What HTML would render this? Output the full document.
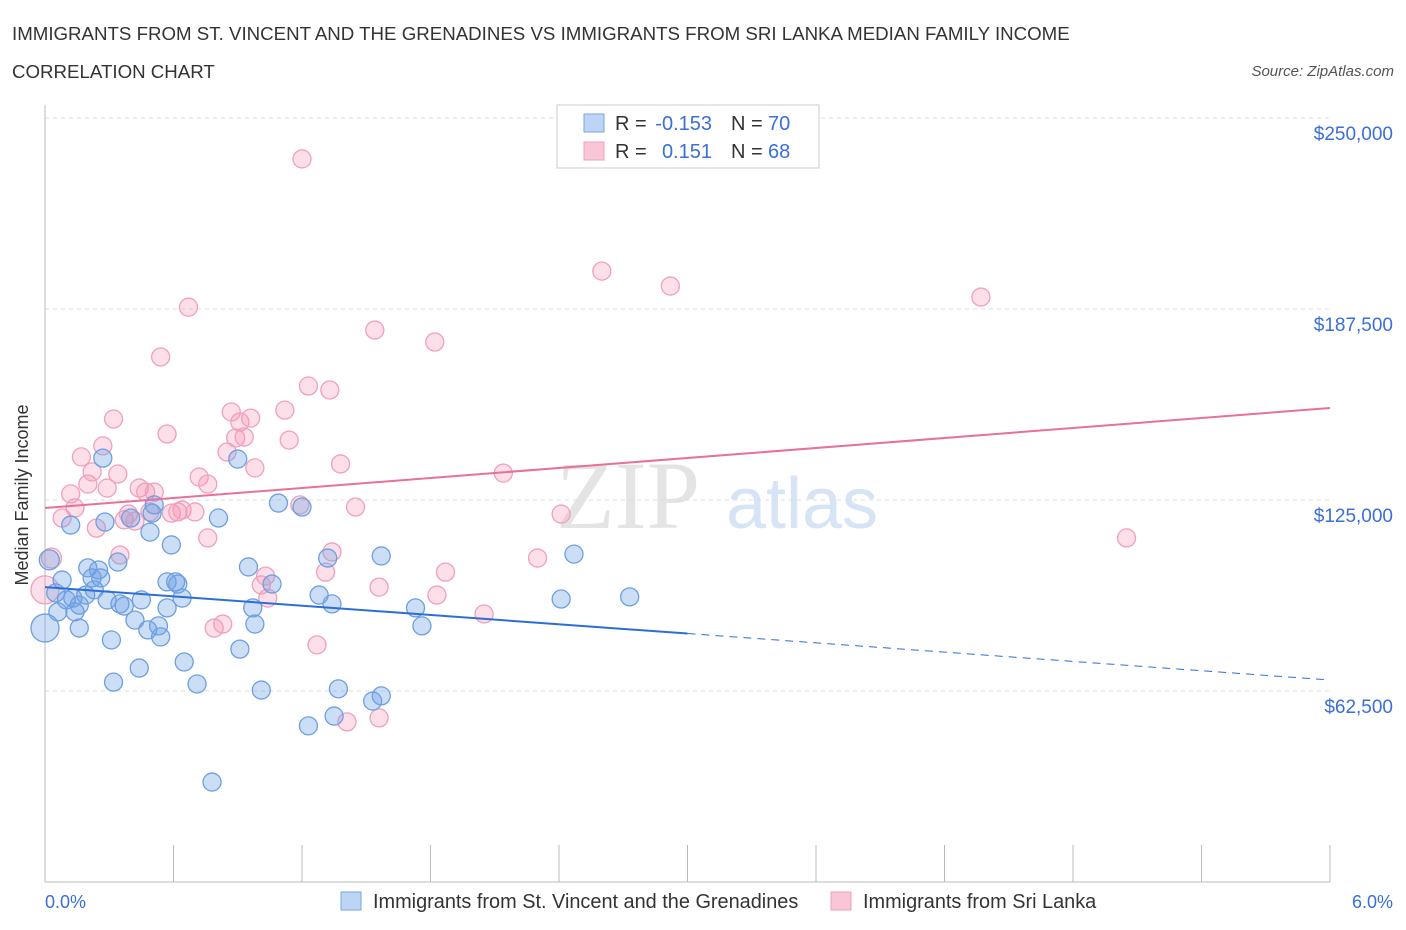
<!DOCTYPE html>
<html><head><meta charset="utf-8"><style>
body{margin:0;background:#fff;font-family:"Liberation Sans",sans-serif;}
svg{display:block}
</style></head><body>
<svg id="chart" width="1406" height="930">
<text x="12" y="40" font-size="18.7" fill="#333">IMMIGRANTS FROM ST. VINCENT AND THE GRENADINES VS IMMIGRANTS FROM SRI LANKA MEDIAN FAMILY INCOME</text>
<text x="12" y="78" font-size="18.7" fill="#333">CORRELATION CHART</text>
<text x="1394" y="76" font-size="15" fill="#555" font-style="italic" text-anchor="end">Source: ZipAtlas.com</text>
<text x="28" y="495" font-size="18" fill="#333" text-anchor="middle" transform="rotate(-90 28 495)">Median Family Income</text>
<text x="628" y="528" font-size="96" fill="#e4e4e4" font-family="Liberation Serif,serif" text-anchor="middle">ZIP</text>
<text x="802" y="528" font-size="72" fill="#d6e4f5" text-anchor="middle">atlas</text>
<g id="grid"></g><g id="axes"></g><g id="pts"></g><g id="trend"></g>
<g>
<rect x="557" y="105" width="262" height="63" fill="#fff" stroke="#ccc"/>
<rect x="584" y="114" width="20" height="18" fill="#bcd5f5" stroke="#7aa6e0"/>
<rect x="584" y="142" width="20" height="18" fill="#f8c6d6" stroke="#f0a0bb"/>
<text x="615" y="130" font-size="20" fill="#333">R =</text>
<text x="712" y="130" font-size="20" fill="#3a6fd8" text-anchor="end">-0.153</text>
<text x="731" y="130" font-size="20" fill="#333">N =</text>
<text x="768" y="130" font-size="20" fill="#3a6fd8">70</text>
<text x="615" y="158" font-size="20" fill="#333">R =</text>
<text x="712" y="158" font-size="20" fill="#3a6fd8" text-anchor="end">0.151</text>
<text x="731" y="158" font-size="20" fill="#333">N =</text>
<text x="768" y="158" font-size="20" fill="#3a6fd8">68</text>
</g>
<g>
<rect x="341" y="892" width="20" height="18" fill="#bcd5f5" stroke="#7aa6e0"/>
<text x="373" y="908" font-size="19.9" fill="#333">Immigrants from St. Vincent and the Grenadines</text>
<rect x="831" y="892" width="20" height="18" fill="#f8c6d6" stroke="#f0a0bb"/>
<text x="863" y="908" font-size="19.9" fill="#333">Immigrants from Sri Lanka</text>
</g>
<text x="45" y="908" font-size="18" fill="#3a6fd8">0.0%</text>
<text x="1393" y="908" font-size="18" fill="#3a6fd8" text-anchor="end">6.0%</text>
</svg>
<script>
const yTicks=[62500,125000,187500,250000];
const yTickLabels=["$62,500","$125,000","$187,500","$250,000"];
const blueX=[0,0.02,0.05,0.06,0.08,0.10,0.12,0.13,0.14,0.16,0.16,0.19,0.20,0.22,0.23,0.25,0.26,0.27,0.28,0.29,0.31,0.32,0.34,0.35,0.37,0.40,0.42,0.44,0.45,0.48,0.49,0.50,0.51,0.53,0.54,0.57,0.57,0.59,0.61,0.62,0.64,0.65,0.71,0.78,0.81,0.90,0.91,0.95,0.97,0.98,1.01,1.06,1.09,1.20,1.23,1.28,1.32,1.34,1.35,1.37,1.53,1.57,1.57,1.73,1.76,2.41,2.47,2.73];
const blueY=[83.1,105.4,94.6,88.4,98.8,92.3,116.8,92.9,88.4,83.1,90.6,93.9,102.8,99.5,95.6,102.1,99.5,138.7,117.8,92.3,79.2,65.4,104.7,91.0,90.3,119.1,85.7,70.0,92.3,82.5,114.5,120.7,123.4,83.8,80.2,89.7,98.2,110.3,98.2,97.5,92.9,72.0,64.8,32.7,119.1,138.4,76.2,103.1,89.7,84.4,62.8,97.5,124.0,122.7,51.1,93.9,106.0,91.0,54.3,63.2,59.2,60.9,106.7,89.7,83.8,92.6,107.3,93.3];
const pinkX=[0,0.03,0.08,0.12,0.14,0.17,0.20,0.22,0.24,0.27,0.29,0.32,0.34,0.35,0.37,0.39,0.42,0.44,0.47,0.49,0.51,0.54,0.57,0.59,0.62,0.64,0.67,0.70,0.72,0.76,0.76,0.79,0.83,0.85,0.87,0.89,0.91,0.93,0.96,0.98,1.01,1.03,1.04,1.12,1.14,1.19,1.20,1.23,1.27,1.31,1.33,1.34,1.38,1.41,1.45,1.54,1.56,1.56,1.82,1.83,1.87,2.05,2.14,2.30,2.41,2.60,2.92,4.37,5.05];
const pinkY=[95.6,106.0,119.1,127.0,122.4,139.1,130.2,134.2,115.8,142.7,128.9,151.5,133.5,107.0,118.5,120.4,118.1,128.9,127.6,121.1,127.6,171.8,146.6,120.7,121.1,121.7,188.1,121.1,132.5,130.2,112.6,83.1,84.4,140.7,153.8,145.3,150.5,145.6,151.8,135.5,97.2,100.1,92.9,154.4,144.6,123.4,236.6,162.3,77.6,101.4,161.0,108.0,136.8,52.4,122.7,180.6,96.5,53.7,176.7,93.9,101.4,87.7,133.8,106.0,120.4,199.9,195.0,191.4,112.6];
const blueTrend=[96.5,66.1];
const pinkTrend=[122.4,155.1];
const NS="http://www.w3.org/2000/svg";
const xs=v=>45+v/6*1285;
const ys=k=>500-(k-125)/62.5*191;
function mk(t,a,p){const e=document.createElementNS(NS,t);for(const k in a)e.setAttribute(k,a[k]);p.appendChild(e);return e;}
const grid=document.getElementById('grid'),axes=document.getElementById('axes'),pts=document.getElementById('pts'),tr=document.getElementById('trend');
yTicks.forEach((t,i)=>{const y=ys(t/1000);
const l=mk('line',{x1:45,x2:1330,y1:y,y2:y,stroke:'#ddd','stroke-dasharray':'4,4'},grid);


const tx=mk('text',{x:1393,y:y+22,'font-size':19,fill:'#3a6fd8','text-anchor':'end'},grid);tx.textContent=yTickLabels[i];

});
const ax=mk('line',{x1:45,x2:1330,y1:882,y2:882,stroke:'#bbb'},axes);


const ay=mk('line',{x1:45,x2:45,y1:105,y2:882,stroke:'#bbb'},axes);


for(let i=0;i<=10;i++){const x=xs(i*0.6);const t=mk('line',{x1:x,x2:x,y1:845,y2:882,stroke:'#bbb'},axes);

}
function dots(X,Y,fill,stroke,name){X.forEach((x,i)=>{const r=i<2?(i==0?14:10):9;const c=mk('circle',{cx:xs(x),cy:ys(Y[i]),r:r,fill:fill,stroke:stroke,'stroke-width':1.3},pts);

});}
dots(pinkX,pinkY,'rgba(244,150,180,0.3)','#f0a0bb','pink-point');
dots(blueX,blueY,'rgba(110,160,230,0.35)','#6d9fe0','blue-point');
const bm=blueTrend[0]+(blueTrend[1]-blueTrend[0])*0.5;
const b1=mk('line',{x1:xs(0),y1:ys(blueTrend[0]),x2:xs(3),y2:ys(bm),stroke:'#2b6fd6','stroke-width':2},tr);


const b2=mk('line',{x1:xs(3),y1:ys(bm),x2:xs(6),y2:ys(blueTrend[1]),stroke:'#2b6fd6','stroke-width':1,'stroke-dasharray':'8,6'},tr);


const p1=mk('line',{x1:xs(0),y1:ys(pinkTrend[0]),x2:xs(6),y2:ys(pinkTrend[1]),stroke:'#e8709a','stroke-width':2},tr);


</script>
</body></html>
